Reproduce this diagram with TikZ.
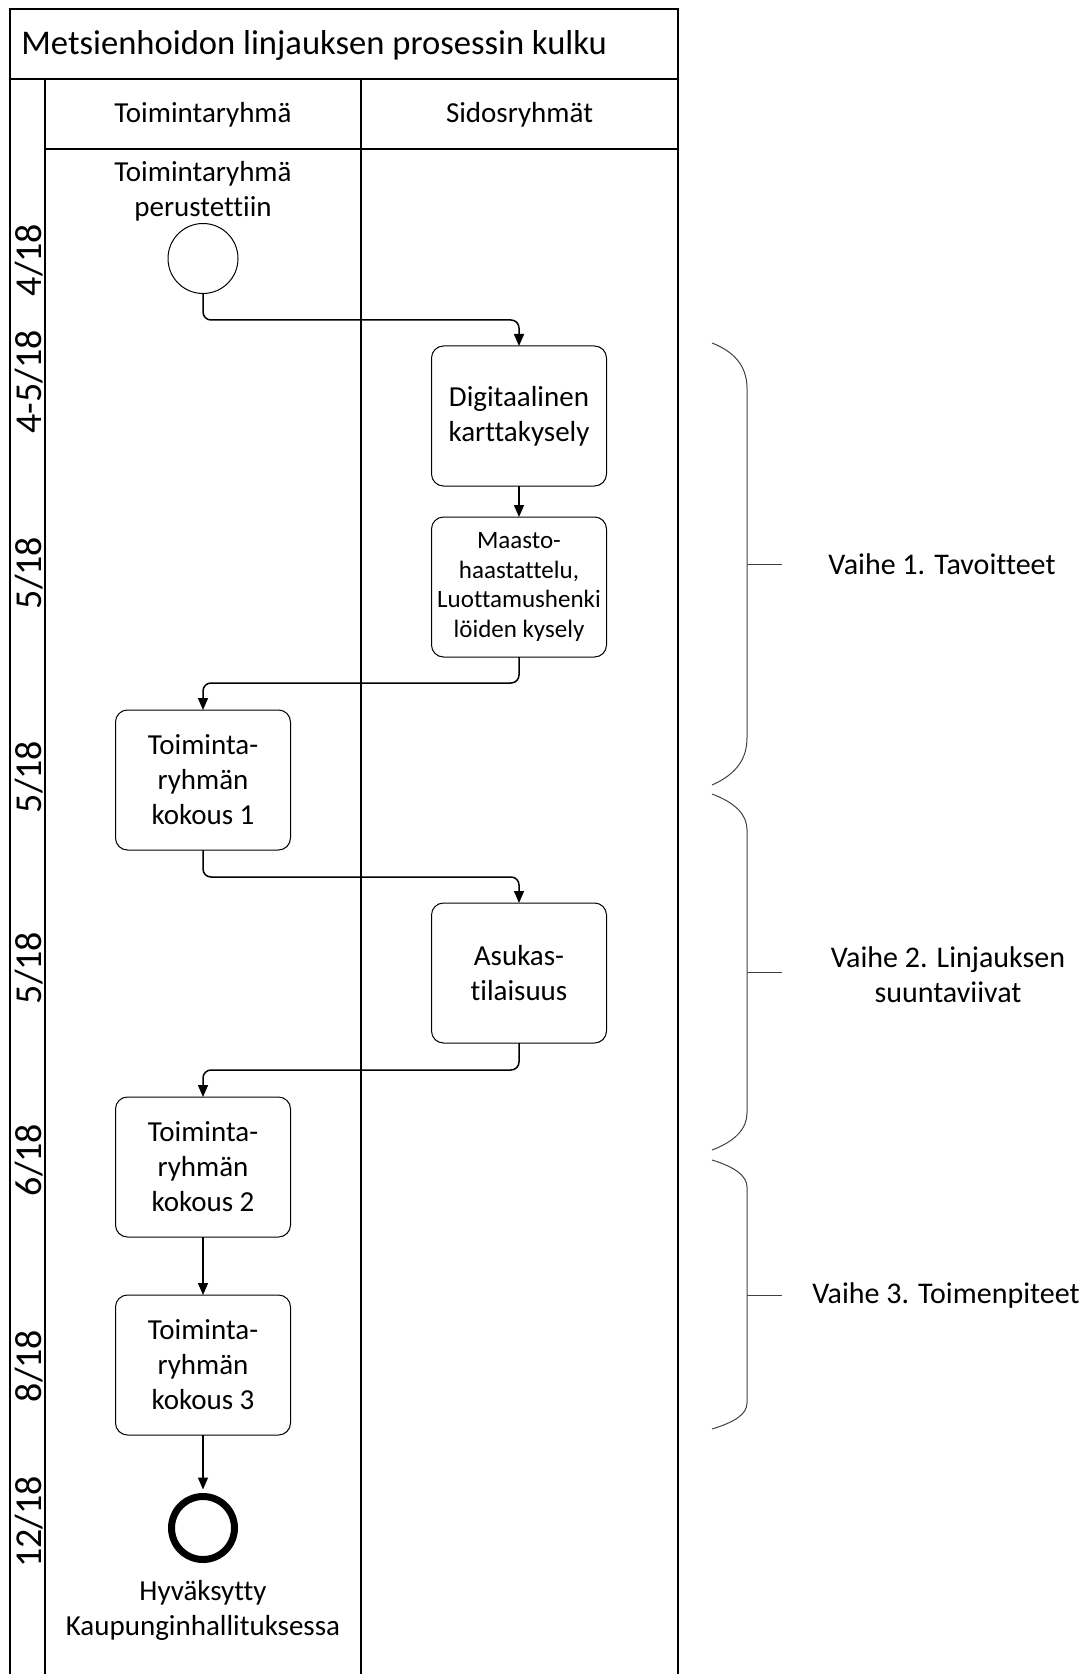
\documentclass[tikz,border=0pt]{standalone}
\usepackage{fontspec}
\setmainfont{Carlito}[Ligatures=NoCommon]
\usetikzlibrary{arrows.meta}

\tikzset{
    lane/.style={line width=1pt},
    task/.style={draw, line width=0.5pt, rounded corners=6pt, minimum width=87.5pt, minimum height=70pt, align=center, inner sep=2pt, outer sep=0pt, font=\fontsize{14.5}{17.5}\selectfont},
    flow/.style={line width=0.75pt, rounded corners=4pt, -{Triangle[length=6pt,width=5pt]}},
    datum/.style={rotate=90, anchor=base, inner sep=0pt, font=\fontsize{19}{22}\selectfont},
    brace/.style={line width=0.5pt, black!75},
    phase/.style={align=center, font=\fontsize{15}{17.5}\selectfont},
    caption/.style={align=center, font=\fontsize{14.5}{17.5}\selectfont}
}

\begin{document}
\begin{tikzpicture}[x=0.5pt, y=-0.5pt]
            \useasboundingbox (0,0) rectangle (1089,1674);

            % kehys ja kaistat
            \draw[lane] (9.5,1674) -- (9.5,9.5) -- (678,9.5) -- (678,1674);
            \draw[lane] (9.5,79) -- (678,79);
            \draw[lane] (44.8,79) -- (44.8,1674);
            \draw[lane] (44.8,149) -- (678,149);
            \draw[lane] (361,79) -- (361,1674);

            \node[anchor=base west, inner sep=0pt, font=\fontsize{17.3}{20}\selectfont] (title) at (21,54.5) {Metsienhoidon linjauksen prosessin kulku};
            \node[anchor=base, font=\fontsize{14.5}{17}\selectfont] (lane1) at (203,122.7) {Toimintaryhmä};
            \node[anchor=base, font=\fontsize{14.5}{17}\selectfont] (lane2) at (519.5,122.7) {Sidosryhmät};

            % kuukaudet
            \node[datum] (d1) at (41,260) {4/18};
            \node[datum] (d2) at (41,382) {4-5/18};
            \node[datum] (d3) at (41,573) {5/18};
            \node[datum] (d4) at (41,777) {5/18};
            \node[datum] (d5) at (41,968) {5/18};
            \node[datum] (d6) at (41,1160) {6/18};
            \node[datum] (d7) at (41,1366) {8/18};
            \node[datum] (d8) at (41,1522) {12/18};

            % tapahtumat
            \node[caption] (startlbl) at (203,191) {Toimintaryhmä\\perustettiin};
            \node[draw, circle, line width=0.5pt, minimum size=35pt, inner sep=0pt] (start) at (203,258.5) {};

            \node[task] (digi) at (519,416) {Digitaalinen\\karttakysely};
            \node[task, font=\fontsize{12.5}{14.75}\selectfont] (maasto) at (519,587) {Maasto-\\haastattelu,\\Luottamushenki\\löiden kysely};
            \node[task] (kokous1) at (203,780) {Toiminta-\\ryhmän\\kokous 1};
            \node[task] (asukas) at (519,973) {Asukas-\\tilaisuus};
            \node[task] (kokous2) at (203,1167) {Toiminta-\\ryhmän\\kokous 2};
            \node[task] (kokous3) at (203,1365) {Toiminta-\\ryhmän\\kokous 3};

            \node[draw, circle, line width=3.5pt, minimum size=31.5pt, inner sep=0pt] (end) at (203,1528) {};
            \node[caption] (endlbl) at (203,1610) {Hyväksytty\\Kaupunginhallituksessa};

            % kulku
            \draw[flow] (start.south) -- ++(0,26) -| (digi.north);
            \draw[flow] (digi.south) -- (maasto.north);
            \draw[flow] (maasto.south) -- ++(0,26) -| (kokous1.north);
            \draw[flow] (kokous1.south) -- ++(0,27) -| (asukas.north);
            \draw[flow] (asukas.south) -- ++(0,27) -| (kokous2.north);
            \draw[flow] (kokous2.south) -- (kokous3.north);
            \draw[flow, shorten >=1.75pt] (kokous3.south) -- (end.north);

            % vaiheet
            \draw[brace] (712,343) .. controls (738,353) and (747,370) .. (747,388) -- (747,738) .. controls (747,758) and (737,774) .. (712,785);
            \draw[brace] (747,564) -- (782,564);
            \node[phase] (vaihe1) at (942,564) {Vaihe 1. Tavoitteet};

            \draw[brace] (712,794) .. controls (736,803) and (747,815) .. (747,830) -- (747,1113) .. controls (747,1128) and (736,1141) .. (712,1150);
            \draw[brace] (747,972) -- (782,972);
            \node[phase] (vaihe2) at (948,975) {Vaihe 2. Linjauksen\\suuntaviivat};

            \draw[brace] (712,1160) .. controls (735,1167) and (747,1176) .. (747,1187) -- (747,1403) .. controls (747,1414) and (735,1422) .. (712,1429);
            \draw[brace] (747,1295) -- (782,1295);
            \node[phase] (vaihe3) at (946,1295) {Vaihe 3. Toimenpiteet};
\end{tikzpicture}
\end{document}
